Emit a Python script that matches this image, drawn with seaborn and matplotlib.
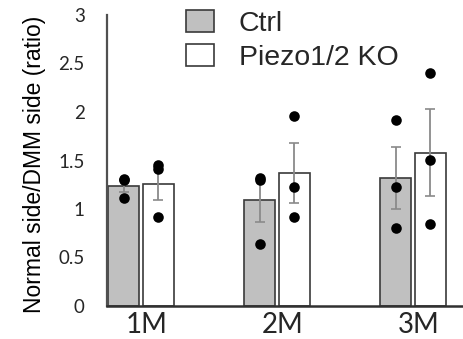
import matplotlib
matplotlib.use("Agg")
import matplotlib.pyplot as plt
import matplotlib.transforms as mtransforms
import seaborn as sns
import pandas as pd
import numpy as np
from matplotlib.patches import Patch

# ---- data ----
months = ["1M", "2M", "3M"]
groups = ["Ctrl", "Piezo1/2 KO"]
ctrl_mean = [1.24, 1.09, 1.32]
ko_mean = [1.26, 1.37, 1.58]
ctrl_sem = [0.06, 0.22, 0.32]
ko_sem = [0.17, 0.31, 0.45]
ctrl_points = [[1.30, 1.31, 1.11], [1.30, 1.32, 0.64], [1.92, 1.23, 0.80]]
ko_points = [[1.45, 1.41, 0.92], [1.96, 1.23, 0.92], [2.40, 1.51, 0.85]]
y_ticks = [0, 0.5, 1, 1.5, 2, 2.5, 3]
y_tick_labels = ["0", "0.5", "1", "1.5", "2", "2.5", "3"]

sns.set_style("white")
plt.rcParams["font.family"] = ["Liberation Sans", "DejaVu Sans"]

df = pd.DataFrame({
    "month": months * 2,
    "group": [groups[0]] * 3 + [groups[1]] * 3,
    "value": ctrl_mean + ko_mean,
})

fig = plt.figure(figsize=(4.64, 3.39), dpi=100)
ax = fig.add_axes([107 / 464, 33 / 339, 357 / 464, 291 / 339])

palette = {groups[0]: "#c0c0c0", groups[1]: "#ffffff"}
sns.barplot(data=df, x="month", y="value", hue="group", order=months,
            hue_order=groups, palette=palette, errorbar=None, width=0.51,
            gap=0.107, edgecolor="#3a3a3a", linewidth=1.2, legend=False, ax=ax)

bars = [p for p in ax.patches]
centers = [b.get_x() + b.get_width() / 2 for b in bars]
ctrl_x = centers[:3]
ko_x = centers[3:6]

ax.errorbar(ctrl_x, ctrl_mean, yerr=ctrl_sem, fmt="none", ecolor="#8a8a8a",
            elinewidth=1.3, capsize=3.5, capthick=1.2, zorder=3)
ax.errorbar(ko_x, ko_mean, yerr=ko_sem, fmt="none", ecolor="#8a8a8a",
            elinewidth=1.3, capsize=3.5, capthick=1.2, zorder=3)

for xs, pts in ((ctrl_x, ctrl_points), (ko_x, ko_points)):
    for x, vals in zip(xs, pts):
        ax.scatter([x] * len(vals), vals, s=58, color="black", zorder=4,
                   linewidths=0)

ax.set_xlim(-0.25, 2.375)
ax.set_ylim(0, 3)
ax.set_yticks(y_ticks)
ax.set_yticklabels(y_tick_labels, fontfamily="Lato", fontsize=13.5)
ax.set_xticks(range(len(months)))
ax.set_xticklabels(months, fontfamily="Lato", fontsize=20)
ax.tick_params(axis="y", length=0, pad=16)
ax.tick_params(axis="x", length=0, pad=4)
offset = mtransforms.ScaledTranslation(6 / 100, 0, fig.dpi_scale_trans)
for lab in ax.get_xticklabels():
    lab.set_transform(lab.get_transform() + offset)
ax.set_xlabel("")
ax.set_ylabel("Normal side/DMM side (ratio)", fontsize=16.5, color="black")
ax.yaxis.set_label_coords(-0.172, 0.485)

for s in ["top", "right"]:
    ax.spines[s].set_visible(False)
ax.spines["left"].set_color("#505050")
ax.spines["left"].set_linewidth(1.6)
ax.spines["bottom"].set_color("#303030")
ax.spines["bottom"].set_linewidth(1.8)

handles = [Patch(facecolor=palette[g], edgecolor="#3a3a3a", linewidth=1.2)
           for g in groups]
fig.legend(handles, groups, loc="upper left", bbox_to_anchor=(186 / 464, 1 - 10 / 339),
           frameon=False, fontsize=20.5, handlelength=1.0, handleheight=0.8,
           handletextpad=0.85, labelspacing=0.25, borderpad=0, borderaxespad=0)

fig.savefig("out.png", dpi=100)
